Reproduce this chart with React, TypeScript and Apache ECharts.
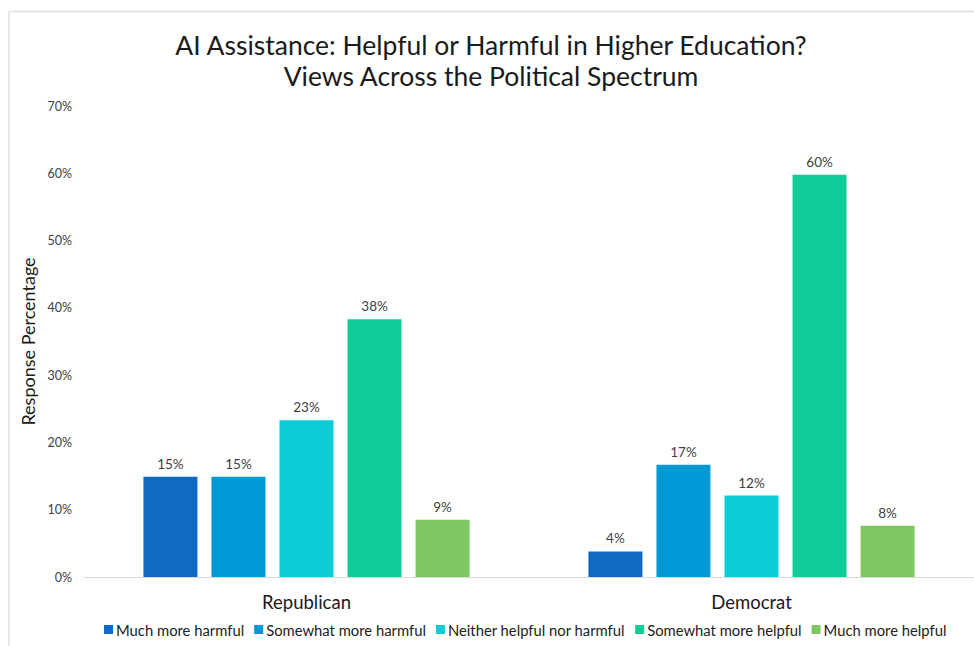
import React, { useEffect, useRef } from "react";
import * as echarts from "echarts";

const categories = ["Republican", "Democrat"];
const seriesNames = [
  "Much more harmful",
  "Somewhat more harmful",
  "Neither helpful nor harmful",
  "Somewhat more helpful",
  "Much more helpful",
];
const muchHarmful = [14.9, 3.8];
const somewhatHarmful = [14.9, 16.7];
const neither = [23.3, 12.1];
const somewhatHelpful = [38.3, 59.8];
const muchHelpful = [8.5, 7.6];
const seriesValues = [muchHarmful, somewhatHarmful, neither, somewhatHelpful, muchHelpful];
const colors = ["#1269C4", "#0099D6", "#0CCDD6", "#10CC98", "#7DC862"];
const titleLines = [
  "AI Assistance: Helpful or Harmful in Higher Education?",
  "Views Across the Political Spectrum",
];

const FONT = "Lato, 'Open Sans', sans-serif";

export default function App() {
  const ref = useRef<HTMLDivElement>(null);
  useEffect(() => {
    if (!ref.current) return;
    const chart = echarts.init(ref.current, null, { renderer: "svg" });
    chart.setOption({
      animation: false,
      backgroundColor: "#ffffff",
      textStyle: { fontFamily: FONT },
      title: {
        text: titleLines.join("\n"),
        left: 486,
        textAlign: "center",
        top: 24,
        textStyle: {
          fontFamily: FONT,
          fontSize: 26.5,
          fontWeight: "normal",
          color: "#1a1a1a",
          lineHeight: 31,
        },
      },
      legend: {
        data: seriesNames,
        bottom: 4,
        left: 99,
        itemWidth: 9,
        itemHeight: 9,
        itemGap: 10,
        icon: "rect",
        textStyle: { fontFamily: FONT, fontSize: 14.8, color: "#222", padding: [0, 0, 0, -2] },
      },
      graphic: [
        { type: "line", shape: { x1: 9, y1: 11.5, x2: 974, y2: 11.5 }, style: { stroke: "#dedede", lineWidth: 1.5 } },
        { type: "line", shape: { x1: 9, y1: 11.5, x2: 9, y2: 646 }, style: { stroke: "#dedede", lineWidth: 1.5 } },
      ],
      grid: { left: 84, right: -6, top: 106, bottom: 69, containLabel: false },
      xAxis: {
        type: "category",
        data: categories,
        axisLine: { lineStyle: { color: "#d9d9d9", width: 1 } },
        axisTick: { show: false },
        axisLabel: { fontFamily: FONT, fontSize: 18.5, color: "#1a1a1a", margin: 15 },
      },
      yAxis: {
        type: "value",
        min: 0,
        max: 70,
        interval: 10,
        name: "Response Percentage",
        nameLocation: "middle",
        nameGap: 42,
        nameTextStyle: { fontFamily: FONT, fontSize: 18, color: "#1a1a1a" },
        splitLine: { show: false },
        axisLine: { show: false },
        axisTick: { show: false },
        axisLabel: {
          fontFamily: FONT,
          fontSize: 12.5,
          color: "#404040",
          margin: 12,
          formatter: (v: number) => `${v}%`,
        },
      },
      series: seriesNames.map((name, i) => ({
        name,
        type: "bar",
        data: seriesValues[i],
        barWidth: 54,
        barGap: "26%",
        itemStyle: { color: colors[i] },
        label: {
          show: true,
          position: "top",
          distance: 6,
          fontFamily: FONT,
          fontSize: 13.5,
          color: "#404040",
          formatter: (p: any) => `${Math.round(p.value)}%`,
        },
      })),
    });
    return () => chart.dispose();
  }, []);
  return (
    <div
      ref={ref}
      style={{ position: "fixed", left: 0, top: 0, width: 974, height: 646 }}
    />
  );
}
